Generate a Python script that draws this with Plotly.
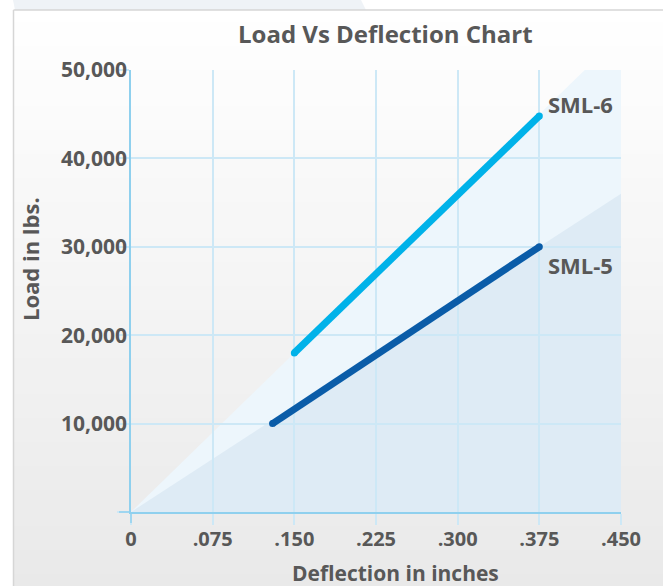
import plotly.graph_objects as go

# ---------------- data ----------------
series_names = ["SML-6", "SML-5"]
sml6_defl = [0.150, 0.375]
sml6_load = [18000, 44800]
sml5_defl = [0.130, 0.375]
sml5_load = [10000, 30000]
series_colors = ["#00B2E9", "#0A5CA8"]

x_tickvals = [0, 0.075, 0.150, 0.225, 0.300, 0.375, 0.450]
x_ticktext = ["0", ".075", ".150", ".225", ".300", ".375", ".450"]
y_tickvals = [0, 10000, 20000, 30000, 40000, 50000]
y_ticktext = ["", "10,000", "20,000", "30,000", "40,000", "50,000"]

# background wedge boundaries (load per inch)
wedge_slopes = [120000, 80000]
wedge_colors = ["#EDF6FC", "#DEEBF5"]

X_MAX = 0.45
Y_MAX = 50000

W, H = 663, 586
L, R, T, B = 131, 42, 70, 74
PW, PH = W - L - R, H - T - B


def px(xp):
    return (xp - L) / PW


def py(yp):
    return (H - B - yp) / PH


TEXT = "#585858"
FONT = "Open Sans"
GRID = "#CDE8F6"
AXIS = "#8FD0EE"

fig = go.Figure()

for xs, ys, name, col in [(sml6_defl, sml6_load, series_names[0], series_colors[0]),
                          (sml5_defl, sml5_load, series_names[1], series_colors[1])]:
    fig.add_trace(go.Scatter(
        x=xs, y=ys, name=name, mode="lines+markers",
        line=dict(color=col, width=7),
        marker=dict(color=col, size=7, line=dict(width=0)),
        hoverinfo="x+y+name", showlegend=False,
    ))

shapes = []
# frame gradient background
n = 48
y0, y1 = 10, H
c0, c1 = (255, 255, 255), (233, 233, 233)
for i in range(n):
    a = y0 + (y1 - y0) * i / n
    b = y0 + (y1 - y0) * (i + 1) / n + 0.6
    t = (i + 0.5) / n
    c = tuple(round(c0[k] + (c1[k] - c0[k]) * t) for k in range(3))
    shapes.append(dict(type="rect", xref="paper", yref="paper", layer="below",
                       x0=px(13), x1=px(W + 5), y0=py(a), y1=py(b),
                       fillcolor="rgb(%d,%d,%d)" % c, line=dict(width=0)))
# pale strip above frame
shapes.append(dict(type="path", xref="paper", yref="paper", layer="below",
                   path="M %f,%f L %f,%f L %f,%f L %f,%f Z" % (
                       px(13), py(0), px(361), py(0), px(366), py(10), px(15), py(10)),
                   fillcolor="#EFF3F7", line=dict(width=0)))
# frame border lines
shapes.append(dict(type="line", xref="paper", yref="paper", layer="below",
                   x0=px(13.5), x1=px(W + 5), y0=py(10), y1=py(10),
                   line=dict(color="#D6D6D6", width=1.5)))
shapes.append(dict(type="line", xref="paper", yref="paper", layer="below",
                   x0=px(13.5), x1=px(13.5), y0=py(10), y1=py(H + 5),
                   line=dict(color="#D6D6D6", width=1.5)))

# wedges in data coordinates
x_top = Y_MAX / wedge_slopes[0]
shapes.append(dict(type="path", xref="x", yref="y", layer="below",
                   path="M 0,0 L %f,%f L %f,%f L %f,0 Z" % (x_top, Y_MAX, X_MAX, Y_MAX, X_MAX),
                   fillcolor=wedge_colors[0], line=dict(width=0)))
shapes.append(dict(type="path", xref="x", yref="y", layer="below",
                   path="M 0,0 L %f,%f L %f,0 Z" % (X_MAX, X_MAX * wedge_slopes[1], X_MAX),
                   fillcolor=wedge_colors[1], line=dict(width=0)))

# axis line extensions
shapes.append(dict(type="line", xref="paper", yref="paper", layer="above",
                   x0=px(119), x1=0, y0=0, y1=0, line=dict(color=AXIS, width=1.5)))
shapes.append(dict(type="line", xref="paper", yref="paper", layer="above",
                   x0=0, x1=0, y0=py(523), y1=0, line=dict(color=AXIS, width=1.5)))

annotations = [
    dict(text="<b>Load Vs Deflection Chart</b>", xref="paper", yref="paper",
         x=px(385), y=py(33), xanchor="center", yanchor="middle", showarrow=False,
         font=dict(family=FONT, size=24, color=TEXT)),
    dict(text="<b>Deflection in inches</b>", xref="paper", yref="paper",
         x=px(395), y=py(573), xanchor="center", yanchor="middle", showarrow=False,
         font=dict(family=FONT, size=21, color=TEXT)),
    dict(text="<b>Load in lbs.</b>", xref="paper", yref="paper",
         x=px(30), y=py(259), xanchor="center", yanchor="middle", showarrow=False,
         textangle=-90, font=dict(family=FONT, size=22, color=TEXT)),
    dict(text="<b>" + series_names[0] + "</b>", xref="x", yref="y",
         x=sml6_defl[-1], y=sml6_load[-1], xanchor="left", yanchor="middle",
         xshift=7, yshift=12, showarrow=False,
         font=dict(family=FONT, size=22, color=TEXT)),
    dict(text="<b>" + series_names[1] + "</b>", xref="x", yref="y",
         x=sml5_defl[-1], y=sml5_load[-1], xanchor="left", yanchor="middle",
         xshift=7, yshift=-18, showarrow=False,
         font=dict(family=FONT, size=22, color=TEXT)),
]

fig.update_layout(
    width=W, height=H,
    margin=dict(l=L, r=R, t=T, b=B, pad=0),
    paper_bgcolor="white", plot_bgcolor="rgba(0,0,0,0)",
    shapes=shapes, annotations=annotations,
    showlegend=False,
)
fig.update_xaxes(
    range=[0, X_MAX], tickvals=x_tickvals, ticktext=x_ticktext,
    showgrid=True, gridcolor=GRID, gridwidth=1.5,
    ticks="outside", ticklen=11, tickcolor=GRID, tickwidth=1.5,
    ticklabelstandoff=-3,
    showline=True, linecolor=AXIS, linewidth=1.5, zeroline=False,
    tickfont=dict(family=FONT, size=20, color=TEXT, weight="bold"),
    fixedrange=True,
)
fig.update_yaxes(
    range=[0, Y_MAX], tickvals=y_tickvals, ticktext=y_ticktext,
    showgrid=True, gridcolor=GRID, gridwidth=1.5,
    ticks="outside", ticklen=12, tickcolor=GRID, tickwidth=1.5,
    ticklabelstandoff=-14,
    showline=True, linecolor=AXIS, linewidth=1.5, zeroline=False,
    tickfont=dict(family=FONT, size=21, color=TEXT, weight="bold"),
    fixedrange=True,
)

fig.write_html("out.html", config={"displayModeBar": False},
               post_script="document.body.style.margin='0';document.body.style.overflow='hidden';")
